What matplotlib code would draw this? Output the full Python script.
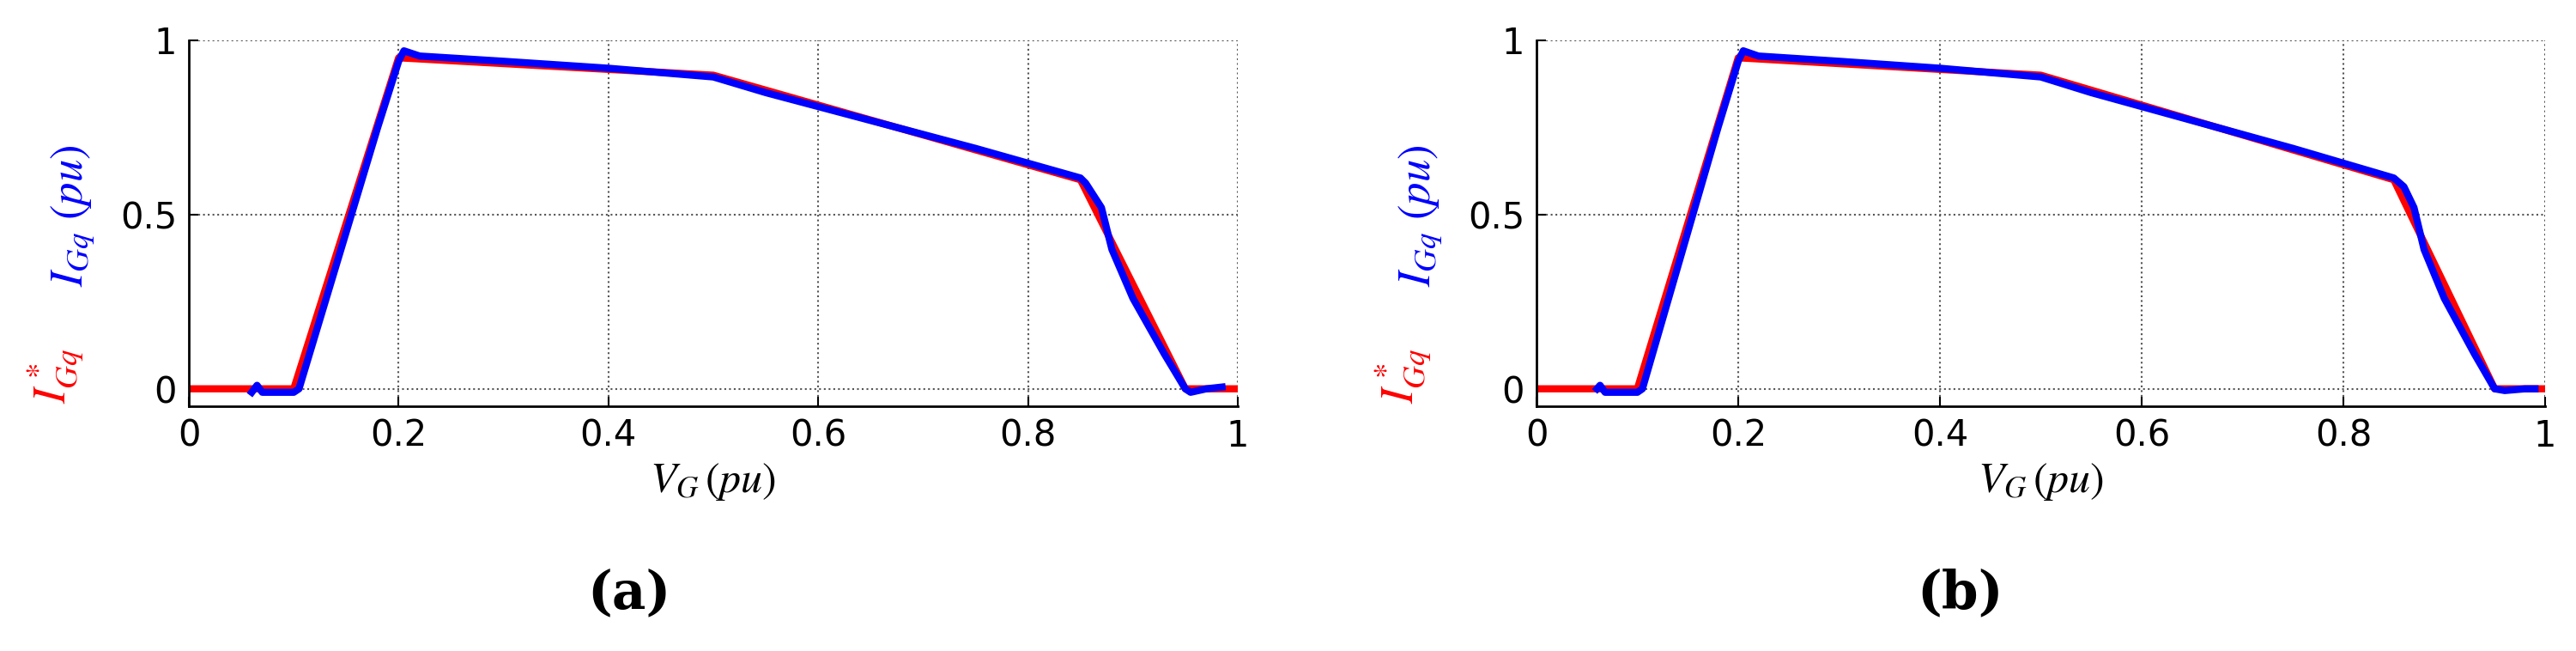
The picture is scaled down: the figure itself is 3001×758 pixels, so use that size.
import matplotlib
matplotlib.use("Agg")
import matplotlib.pyplot as plt

# reference profile I*_Gq (red)
ref_v = [0.0, 0.1, 0.2, 0.5, 0.85, 0.95, 1.0]
ref_i = [0.0, 0.0, 0.95, 0.90, 0.60, 0.0, 0.0]

# measured I_Gq (blue), panel a
meas_a_v = [0.06, 0.065, 0.07, 0.08, 0.09, 0.10, 0.105, 0.12, 0.15, 0.18, 0.20, 0.205, 0.22, 0.30, 0.40, 0.50, 0.55, 0.65, 0.75, 0.85, 0.855, 0.87, 0.88, 0.90, 0.93, 0.95, 0.955, 0.97, 0.985]
meas_a_i = [-0.01, 0.01, -0.01, -0.01, -0.01, -0.01, 0.0, 0.15, 0.45, 0.75, 0.94, 0.97, 0.955, 0.94, 0.92, 0.895, 0.85, 0.77, 0.69, 0.605, 0.59, 0.52, 0.40, 0.26, 0.10, 0.0, -0.01, 0.0, 0.005]
# panel b
meas_b_v = [0.06, 0.063, 0.068, 0.075, 0.09, 0.10, 0.105, 0.12, 0.15, 0.18, 0.20, 0.205, 0.22, 0.30, 0.40, 0.50, 0.55, 0.65, 0.75, 0.85, 0.86, 0.87, 0.88, 0.90, 0.93, 0.95, 0.96, 0.98, 0.99]
meas_b_i = [0.0, 0.01, -0.01, -0.01, -0.01, -0.01, 0.0, 0.15, 0.45, 0.75, 0.94, 0.97, 0.955, 0.94, 0.92, 0.895, 0.85, 0.77, 0.69, 0.605, 0.58, 0.52, 0.40, 0.26, 0.10, 0.0, -0.005, 0.0, 0.0]

xticks = [0, 0.2, 0.4, 0.6, 0.8, 1]
yticks = [0, 0.5, 1]
xlabels = ["0", "0.2", "0.4", "0.6", "0.8", "1"]
ylabels = ["0", "0.5", "1"]

plt.rcParams['mathtext.fontset'] = 'stix'
fig = plt.figure(figsize=(30.01, 7.58), dpi=100)

panels = [
    ([220 / 3001, 0.376, 1222 / 3001, 0.562], meas_a_v, meas_a_i, "(a)"),
    ([1790 / 3001, 0.376, 1175 / 3001, 0.562], meas_b_v, meas_b_i, "(b)"),
]

for rect, mv, mi, tag in panels:
    ax = fig.add_axes(rect)
    ax.plot(ref_v, ref_i, color='red', lw=6, solid_capstyle='butt')
    ax.plot(mv, mi, color='blue', lw=6)
    ax.set_xlim(0, 1)
    ax.set_ylim(-0.05, 1)
    ax.set_xticks(xticks)
    ax.set_xticklabels(xlabels)
    ax.set_yticks(yticks)
    ax.set_yticklabels(ylabels)
    ax.tick_params(labelsize=30, direction='in', length=8, width=1.5, pad=10)
    ax.grid(True, linestyle=':', color='#555555', lw=1.5)
    for s in ax.spines.values():
        s.set_linewidth(2)
    ax.spines['top'].set_visible(False)
    ax.spines['right'].set_visible(False)
    ax.set_xlabel(r'$V_G\,(pu)$', fontsize=36, labelpad=6)
    x0 = rect[0]
    fig.text(x0 - 0.052, 0.38, r'$I^*_{Gq}$', color='red', fontsize=38,
             rotation=90, ha='center', va='bottom')
    fig.text(x0 - 0.045, 0.56, r'$I_{Gq}\ (pu)$', color='blue', fontsize=38,
             rotation=90, ha='center', va='bottom')
    fig.text(x0 + rect[2] * 0.42, 0.065, tag, fontsize=44, ha='center',
             fontweight='bold', family='DejaVu Serif')

fig.savefig("out.png", dpi=100)
